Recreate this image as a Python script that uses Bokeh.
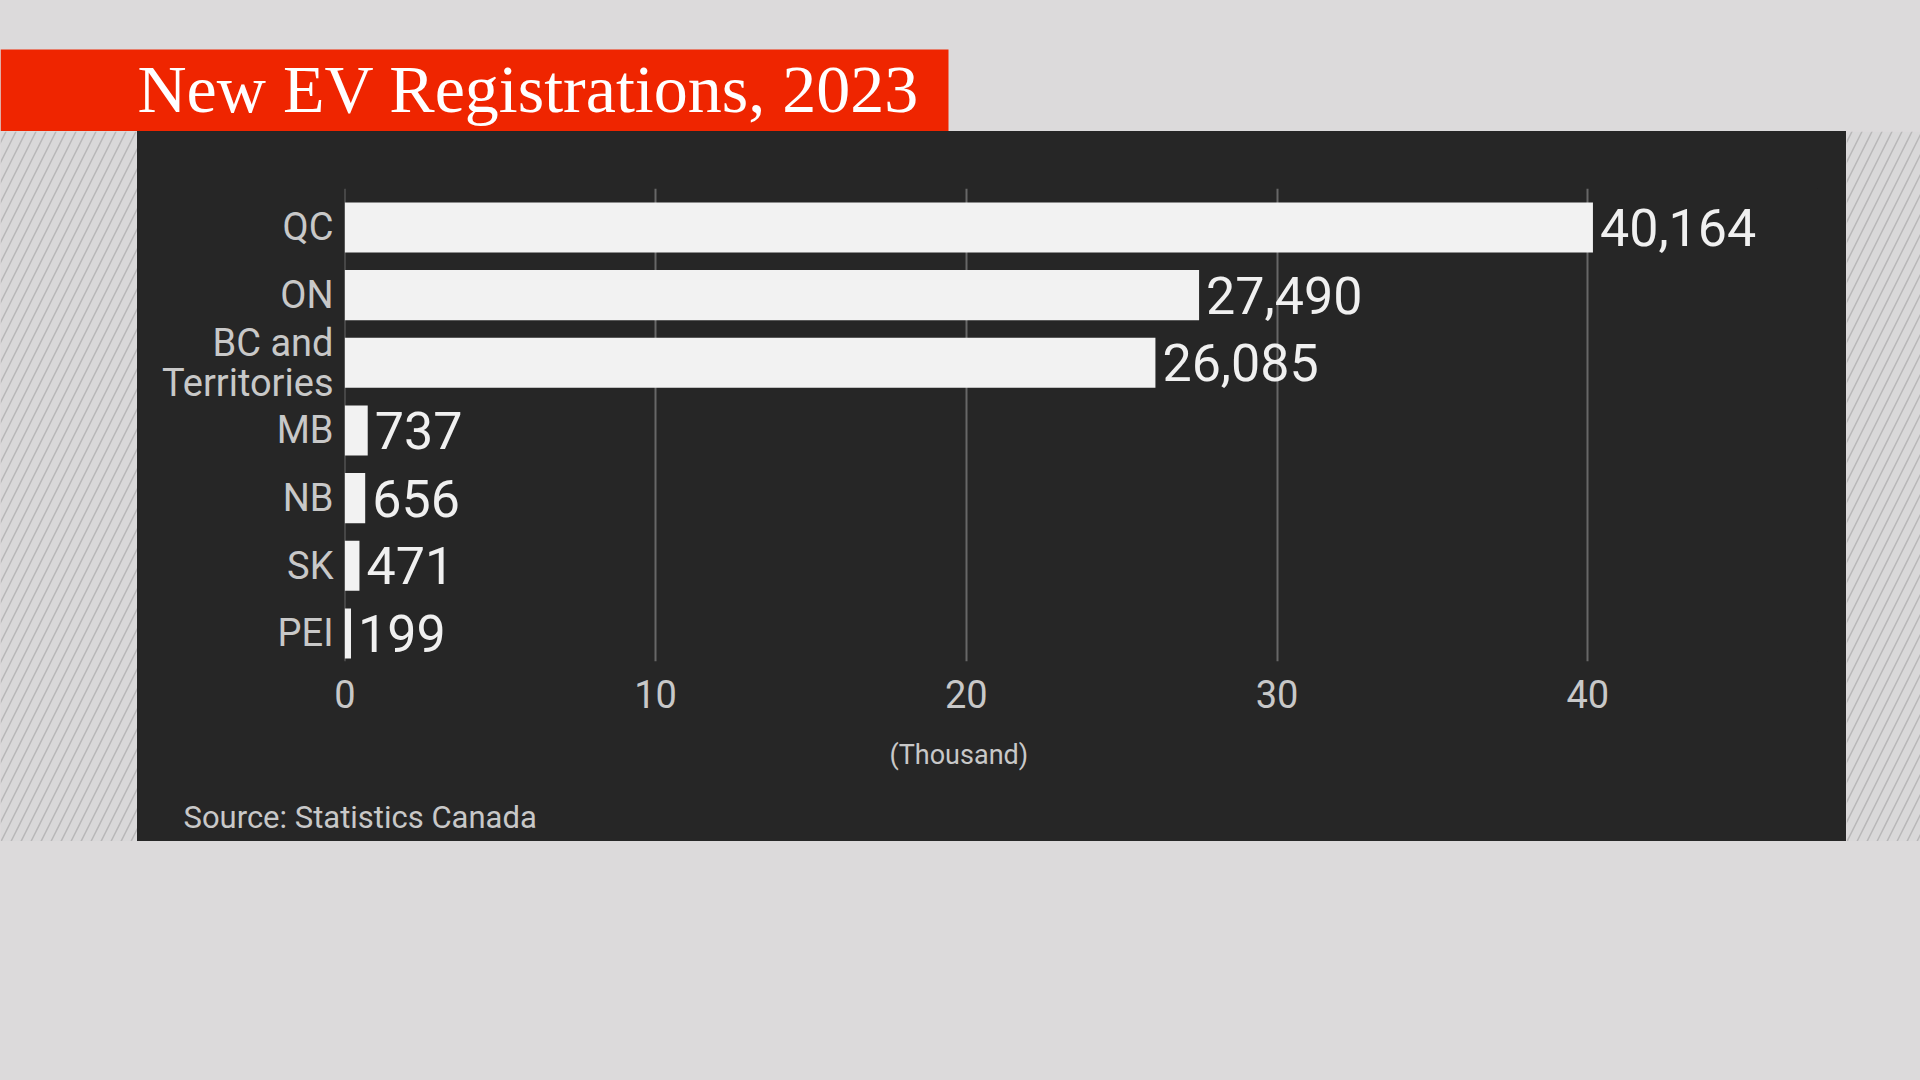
from bokeh.plotting import figure
from bokeh.models import ColumnDataSource, Range1d, FixedTicker, LabelSet, Label, Title
from bokeh.core.properties import value
from bokeh.layouts import column, row
from bokeh.embed import file_html
from bokeh.resources import INLINE

# data
provinces = ["QC", "ON", "BC and\nTerritories", "MB", "NB", "SK", "PEI"]
registrations = [40164, 27490, 26085, 737, 656, 471, 199]
x_ticks = [0, 10000, 20000, 30000, 40000]
x_tick_labels = ["0", "10", "20", "30", "40"]

title_text = "New EV Registrations, 2023"
axis_text = "(Thousand)"
source_text = "Source: Statistics Canada"

PAGE_BG = "#dcdadb"
RED = "#ef2500"
PANEL = "#262626"
BAR = "#f2f2f2"
LABEL = "#c8c8c8"


def blank(w, h, xr=(0, 1), yr=(0, 1)):
    f = figure(width=w, height=h, x_range=Range1d(*xr), y_range=Range1d(*yr),
               toolbar_location=None, output_backend="svg",
               x_axis_type=None, y_axis_type=None, min_border=0)
    f.background_fill_color = PAGE_BG
    f.border_fill_color = PAGE_BG
    f.outline_line_color = None
    f.styles = {"background-color": PAGE_BG}
    return f


# top strip with the red title band
top = blank(1920, 131, (0, 1920), (131, 0))
top.quad(left=0, right=948, top=49, bottom=131, fill_color=RED, line_color=None)
top.add_layout(Label(x=137, y=88, text=title_text, text_font="Liberation Serif",
                     text_font_size="68px", text_color="white",
                     text_baseline="alphabetic"))


# hatched side strips
def hatch_panel(w):
    f = blank(w, 710)
    f.quad(left=0, right=1, bottom=0, top=1, fill_color="#d9d8d9", line_color=None,
           hatch_pattern="/", hatch_color="#b8b7b8", hatch_weight=1.5, hatch_scale=20)
    return f


left = hatch_panel(137)
right = hatch_panel(74)

# main bar chart
n = len(provinces)
idx = list(range(n))
src = ColumnDataSource(dict(y=idx, value=registrations,
                            label=[f"{v:,}" for v in registrations]))

p = figure(width=1709, height=710, x_range=Range1d(-10, 47390),
           y_range=Range1d(n - 1 + 0.414, -0.576),
           toolbar_location=None, output_backend="svg",
           min_border_left=207, min_border_right=29,
           min_border_top=57, min_border_bottom=180)
p.background_fill_color = PANEL
p.border_fill_color = PANEL
p.outline_line_color = None
p.styles = {"background-color": PANEL}

p.hbar(y="y", left=0, right="value", height=0.74, source=src,
       fill_color=BAR, line_color=None)

p.xgrid.ticker = FixedTicker(ticks=x_ticks)
p.xgrid.grid_line_color = "#676767"
p.xgrid.grid_line_width = 2
p.ygrid.visible = False

p.xaxis.ticker = FixedTicker(ticks=x_ticks)
p.xaxis.major_label_overrides = dict(zip(x_ticks, x_tick_labels))
p.yaxis.ticker = FixedTicker(ticks=idx)
p.yaxis.major_label_overrides = dict(zip(idx, provinces))

for ax in (p.xaxis, p.yaxis):
    ax.axis_line_color = None
    ax.major_tick_line_color = None
    ax.minor_tick_line_color = None
    ax.major_tick_out = 0
    ax.major_label_text_font = "Roboto"
    ax.major_label_text_font_size = "38px"
    ax.major_label_text_color = LABEL

p.xaxis.major_label_standoff = 18
p.yaxis.major_label_standoff = 11
p.yaxis.major_label_text_line_height = 0.92

p.add_layout(LabelSet(x="value", y="y", text="label", source=src, x_offset=7,
                      text_baseline="middle", text_font=value("Roboto"),
                      text_font_size="52px", text_color="#f0f0f0"))

# unit note under the axis (over the 0-40 span), then the source line
p.add_layout(Title(text=axis_text, align="left", offset=545, standoff=52,
                   text_font="Roboto", text_font_size="27px",
                   text_font_style="normal", text_color=LABEL), "below")
p.add_layout(Title(text=source_text, align="left", offset=-161, standoff=0,
                   text_font="Roboto", text_font_size="31px",
                   text_font_style="normal", text_color=LABEL), "below")

bottom = blank(1920, 239)

layout = column(top, row(column(left), p, column(right)), bottom)

open("out.html", "w").write(file_html(layout, INLINE))
